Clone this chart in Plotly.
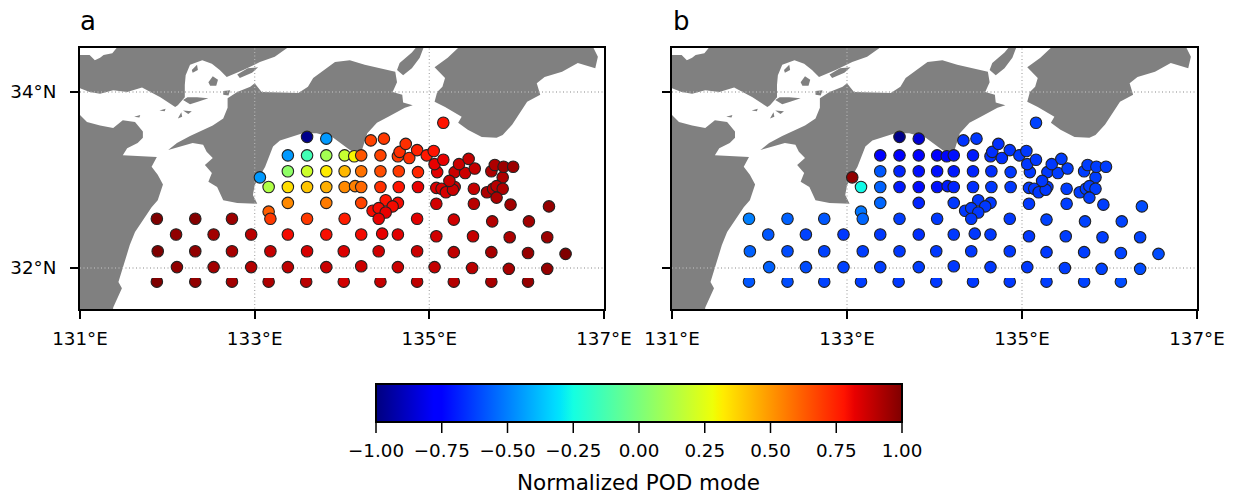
import plotly.graph_objects as go

X_TICKS = [131, 133, 135, 137]
X_LABELS = ["131°E", "133°E", "135°E", "137°E"]
Y_TICKS = [32, 34]
Y_LABELS = ["32°N", "34°N"]
CB_TICKS = [-1, -0.75, -0.5, -0.25, 0, 0.25, 0.5, 0.75, 1]

# Station positions and POD mode values
station_lon = [
    133.60, 133.82,
    135.16,
    134.33, 134.48,
    133.38, 133.60, 133.82, 134.03, 134.14, 134.22, 134.44, 134.64, 134.66, 134.73, 134.77, 134.86, 134.97, 135.05,
    133.06,
    133.38, 133.60, 133.82, 134.03, 134.22, 134.44, 134.65, 134.87, 135.09, 135.29, 135.41, 135.52, 135.71, 135.84, 135.75, 135.85, 135.96, 135.06, 135.16, 135.34, 135.45,
    133.16, 133.38, 133.60, 133.82, 134.03, 134.15, 134.22, 134.44, 134.65, 134.87, 135.08, 135.14, 135.19, 135.29, 135.27, 135.51, 135.66, 135.73, 135.77, 135.84, 135.77, 135.23,
    133.38, 133.82, 134.22, 134.50, 134.64, 134.58, 134.35, 134.42, 134.50, 135.08, 135.51, 135.93, 136.37,
    133.16, 133.18, 131.88, 132.32, 132.74, 133.60, 134.03, 134.42, 134.86, 135.28, 135.72, 136.14,
    132.10, 132.53, 132.96, 133.38, 133.82, 134.22, 134.46, 134.64, 135.08, 135.50, 135.92, 136.35,
    131.89, 132.32, 132.74, 133.18, 133.60, 134.02, 134.42, 134.86, 135.28, 135.71, 136.13, 136.56,
    132.11, 132.53, 132.96, 133.38, 133.82, 134.22, 134.64, 135.06, 135.49, 135.91, 136.35,
    131.88, 132.32, 132.74, 133.16, 133.59, 134.02, 134.44, 134.86, 135.28, 135.71, 136.13,
]
station_lat = [
    33.49, 33.47,
    33.65,
    33.45, 33.47,
    33.28, 33.28, 33.28, 33.28, 33.27, 33.28, 33.28, 33.27, 33.32, 33.41, 33.25, 33.34, 33.28, 33.33,
    33.03,
    33.10, 33.10, 33.10, 33.10, 33.10, 33.10, 33.10, 33.09, 33.09, 33.09, 33.08, 33.13, 33.10, 33.03, 33.17, 33.15, 33.15, 33.18, 33.23, 33.18, 33.24,
    32.92, 32.92, 32.92, 32.92, 32.92, 32.93, 32.92, 32.92, 32.92, 32.92, 32.91, 32.90, 32.86, 32.92, 32.89, 32.90, 32.86, 32.90, 32.93, 32.90, 32.80, 32.99,
    32.74, 32.74, 32.74, 32.77, 32.74, 32.70, 32.65, 32.68, 32.63, 32.73, 32.73, 32.72, 32.70,
    32.64, 32.56, 32.56, 32.56, 32.56, 32.56, 32.56, 32.56, 32.56, 32.55, 32.53, 32.53,
    32.38, 32.38, 32.38, 32.38, 32.38, 32.38, 32.39, 32.38, 32.36, 32.36, 32.35, 32.35,
    32.19, 32.19, 32.19, 32.19, 32.19, 32.19, 32.19, 32.19, 32.18, 32.18, 32.17, 32.16,
    32.01, 32.01, 32.01, 32.01, 32.01, 32.02, 32.01, 32.01, 32.00, 31.99, 31.99,
    31.845, 31.845, 31.845, 31.845, 31.845, 31.845, 31.845, 31.845, 31.845, 31.845, 31.845,
]
pod_a = [
    -0.98, -0.45,
    0.78,
    0.68, 0.70,
    -0.45, -0.14, 0.10, 0.18, 0.30, 0.64, 0.68, 0.70, 0.72, 0.72, 0.72, 0.75, 0.77, 0.78,
    -0.45,
    0.05, 0.20, 0.32, 0.43, 0.58, 0.66, 0.70, 0.74, 0.83, 0.87, 0.87, 0.88, 0.92, 0.92, 0.92, 0.95, 0.95, 0.82, 0.82, 0.87, 0.88,
    0.13, 0.35, 0.40, 0.45, 0.53, 0.55, 0.60, 0.72, 0.78, 0.82, 0.84, 0.85, 0.85, 0.87, 0.87, 0.88, 0.92, 0.90, 0.90, 0.92, 0.92, 0.87,
    0.53, 0.56, 0.68, 0.78, 0.80, 0.80, 0.80, 0.80, 0.82, 0.86, 0.90, 0.94, 0.96,
    0.62, 0.70, 1.00, 0.99, 0.95, 0.70, 0.76, 0.82, 0.83, 0.86, 0.91, 0.94,
    0.97, 0.94, 0.90, 0.80, 0.79, 0.80, 0.82, 0.83, 0.86, 0.88, 0.92, 0.95,
    1.00, 0.97, 0.93, 0.88, 0.85, 0.84, 0.86, 0.87, 0.89, 0.93, 0.96, 1.00,
    0.97, 0.94, 0.91, 0.89, 0.87, 0.87, 0.87, 0.88, 0.90, 0.93, 0.96,
    1.00, 0.97, 0.94, 0.92, 0.90, 0.86, 0.88, 0.89, 0.91, 0.93, 0.96,
]
pod_b = [
    -0.98, -0.85,
    -0.62,
    -0.65, -0.64,
    -0.78, -0.78, -0.76, -0.76, -0.74, -0.72, -0.70, -0.66, -0.66, -0.66, -0.66, -0.65, -0.64, -0.64,
    0.97,
    -0.58, -0.68, -0.72, -0.72, -0.70, -0.68, -0.66, -0.64, -0.64, -0.64, -0.63, -0.63, -0.63, -0.63, -0.63, -0.63, -0.63, -0.64, -0.64, -0.64, -0.63,
    -0.26, -0.56, -0.70, -0.73, -0.72, -0.70, -0.68, -0.66, -0.64, -0.64, -0.64, -0.64, -0.64, -0.64, -0.64, -0.63, -0.63, -0.63, -0.63, -0.63, -0.63, -0.64,
    -0.55, -0.68, -0.64, -0.64, -0.64, -0.64, -0.64, -0.64, -0.64, -0.64, -0.63, -0.63, -0.60,
    -0.52, -0.55, -0.50, -0.56, -0.58, -0.63, -0.64, -0.64, -0.64, -0.62, -0.62, -0.62,
    -0.58, -0.62, -0.64, -0.64, -0.66, -0.64, -0.64, -0.64, -0.64, -0.63, -0.63, -0.62,
    -0.56, -0.60, -0.62, -0.63, -0.64, -0.64, -0.64, -0.64, -0.64, -0.63, -0.62, -0.60,
    -0.56, -0.60, -0.62, -0.63, -0.63, -0.64, -0.64, -0.64, -0.63, -0.62, -0.60,
    -0.58, -0.60, -0.62, -0.63, -0.64, -0.64, -0.64, -0.64, -0.63, -0.62, -0.60,
]

# Land outlines (lon/lat)
honshu_west_lon = [131.435,131.37,131.27,131.23,131.17,131.11,130.98,130.98,131.11,131.23,131.38,131.54,131.71,131.80,131.92,132.09,132.12,132.20,132.20,132.21,132.26,132.40,132.51,132.60,132.68,132.87,133.06,133.23,133.40,133.40,130.98,130.98,131.435]
honshu_west_lat = [34.52,34.44,34.42,34.39,34.36,34.42,34.42,34.05,34.00,33.98,34.02,34.00,34.05,34.00,33.94,33.83,33.85,33.94,34.08,34.19,34.31,34.36,34.32,34.25,34.17,34.25,34.34,34.40,34.52,34.52,34.52,34.52,34.52]
kyushu_lon = [130.98,131.08,131.23,131.38,131.49,131.63,131.72,131.72,131.66,131.54,131.49,131.77,131.88,131.82,131.89,131.95,131.89,131.82,131.69,131.63,131.57,131.49,131.44,131.48,131.38,131.37,130.98]
kyushu_lat = [33.76,33.66,33.62,33.59,33.68,33.66,33.55,33.48,33.42,33.36,33.28,33.26,33.26,33.15,33.06,32.95,32.77,32.69,32.49,32.41,32.26,32.01,31.84,31.77,31.55,31.45,31.45]
shikoku_lon = [132.01,132.11,132.26,132.41,132.52,132.64,132.69,132.69,132.80,132.95,133.00,133.08,133.50,133.61,133.67,133.92,134.09,134.26,134.61,134.63,134.58,134.69,134.70,134.81,134.72,134.53,134.40,134.29,134.21,134.15,134.09,133.90,133.71,133.55,133.29,133.21,133.12,133.00,132.98,133.03,132.80,132.64,132.57,132.47,132.51,132.43,132.52,132.45,132.41,132.29,132.15,132.01]
shikoku_lat = [33.34,33.42,33.50,33.57,33.62,33.70,33.82,33.93,34.00,34.06,34.10,34.00,33.99,34.06,34.16,34.34,34.36,34.31,34.23,34.11,34.00,33.97,33.88,33.85,33.82,33.72,33.65,33.53,33.28,33.31,33.34,33.48,33.53,33.53,33.45,33.38,33.15,32.94,32.83,32.73,32.74,32.77,32.92,32.98,33.08,33.17,33.25,33.32,33.40,33.42,33.38,33.34]
kii_lon = [135.35,135.21,135.06,135.12,135.18,135.15,135.09,135.06,135.18,135.37,135.33,135.44,135.60,135.77,135.84,135.95,136.04,136.12,136.27,136.23,136.32,136.52,136.70,136.90,136.93,136.87,135.35]
kii_lat = [34.52,34.39,34.28,34.22,34.16,34.06,34.00,33.89,33.83,33.72,33.65,33.57,33.49,33.48,33.51,33.63,33.77,33.89,33.97,34.10,34.17,34.23,34.33,34.27,34.40,34.52,34.52]
islands_lon = [134.94,134.89,134.80,134.70,134.63,134.66,134.80,134.86,None,
               132.18,132.23,132.34,132.47,132.35,132.26,None,
               132.47,132.52,132.58,132.56,132.49,None,
               132.64,132.72,132.70,132.64,None,
               132.80,132.92,133.04,132.97,132.83,None,
               131.62,131.69,131.68,None,
               131.91,131.98,131.97,None,
               132.12,132.16,132.17,None,
               132.18,132.28,132.24,None,
               132.28,132.34,132.35,132.29]
islands_lat = [34.52,34.39,34.27,34.19,34.25,34.33,34.45,34.52,None,
               33.91,33.94,33.94,33.93,33.89,33.86,None,
               34.11,34.18,34.14,34.07,34.07,None,
               34.01,34.02,33.96,33.97,None,
               34.20,34.27,34.28,34.22,34.16,None,
               33.72,33.74,33.71,None,
               33.79,33.81,33.78,None,
               33.70,33.77,33.72,None,
               33.79,33.78,33.75,None,
               34.25,34.31,34.25,34.22]

LAND = "#808080"
FONT = "DejaVu Sans"

jet = [
    [0.0, "rgb(0,0,127)"], [0.11, "rgb(0,0,255)"], [0.125, "rgb(0,0,255)"],
    [0.34, "rgb(0,219,255)"], [0.35, "rgb(0,229,251)"], [0.375, "rgb(20,255,226)"],
    [0.64, "rgb(238,255,8)"], [0.65, "rgb(247,246,0)"], [0.66, "rgb(255,236,0)"],
    [0.89, "rgb(255,19,0)"], [0.91, "rgb(232,0,0)"], [1.0, "rgb(127,0,0)"],
]

fig = go.Figure()
land_parts = [(honshu_west_lon, honshu_west_lat), (kyushu_lon, kyushu_lat),
              (shikoku_lon, shikoku_lat), (kii_lon, kii_lat), (islands_lon, islands_lat)]

for xa, ya, values in (("x", "y", pod_a), ("x2", "y2", pod_b)):
    for lons, lats in land_parts:
        fig.add_trace(go.Scatter(x=lons, y=lats, xaxis=xa, yaxis=ya, mode="lines",
                                 fill="toself", fillcolor=LAND, line=dict(width=0),
                                 hoverinfo="skip", showlegend=False))
    for lon in X_TICKS[1:3]:
        fig.add_trace(go.Scatter(x=[lon, lon], y=[31.5, 34.5], xaxis=xa, yaxis=ya, mode="lines",
                                 line=dict(color="#b0b0b0", width=1.3, dash="1px,2.5px"),
                                 hoverinfo="skip", showlegend=False))
    for lat in Y_TICKS:
        fig.add_trace(go.Scatter(x=[131, 137], y=[lat, lat], xaxis=xa, yaxis=ya, mode="lines",
                                 line=dict(color="#b0b0b0", width=1.3, dash="1px,2.5px"),
                                 hoverinfo="skip", showlegend=False))
    fig.add_trace(go.Scatter(x=station_lon, y=station_lat, xaxis=xa, yaxis=ya, mode="markers",
                             marker=dict(size=11.5, color=values, coloraxis="coloraxis",
                                         line=dict(color="#222222", width=1.1)),
                             showlegend=False))

W, H = 1233, 496
ML, MR = 30, 30
PW = W - ML - MR


def fx(px):
    return (px - ML) / PW


def fy(py):
    return 1 - py / H


axis_common = dict(showgrid=False, zeroline=False, showline=True, mirror=True,
                   linecolor="black", linewidth=2, ticks="outside", ticklen=8,
                   tickwidth=1.5, tickcolor="black",
                   tickfont=dict(family=FONT, size=18.3, color="black"))
ydom = [fy(309), fy(48)]
yr = [31.534, 34.5]
cb_left, cb_width = 376, 526
tick_shapes = [
    dict(type="line", xref="paper", yref="paper",
         x0=fx(cb_left + cb_width * (t + 1) / 2), x1=fx(cb_left + cb_width * (t + 1) / 2),
         y0=fy(423), y1=fy(433), line=dict(color="black", width=1.5))
    for t in CB_TICKS
]
fig.update_layout(
    width=W, height=H, autosize=False,
    margin=dict(l=ML, r=MR, t=0, b=0),
    paper_bgcolor="white", plot_bgcolor="white",
    font=dict(family=FONT, color="black"),
    xaxis=dict(domain=[fx(80), fx(604)], range=[131, 137], tickvals=X_TICKS, ticktext=X_LABELS,
               ticklabelstandoff=4, **axis_common),
    yaxis=dict(domain=ydom, range=yr, tickvals=Y_TICKS, ticktext=Y_LABELS,
               ticklabelstandoff=10, **axis_common),
    xaxis2=dict(domain=[fx(672), fx(1197)], range=[131, 137], anchor="y2", tickvals=X_TICKS, ticktext=X_LABELS,
                ticklabelstandoff=4, **axis_common),
    yaxis2=dict(domain=ydom, range=yr, anchor="x2", tickvals=Y_TICKS, showticklabels=False, **axis_common),
    coloraxis=dict(
        cmin=-1, cmax=1, colorscale=jet,
        colorbar=dict(
            orientation="h", x=fx(cb_left), xanchor="left", y=fy(384), yanchor="top",
            len=cb_width / PW, lenmode="fraction", thickness=38, thicknessmode="pixels",
            xpad=0, ypad=0, outlinecolor="black", outlinewidth=2,
            ticks="outside", ticklen=13, tickwidth=1, tickcolor="rgba(0,0,0,0)",
            tickvals=CB_TICKS, tickformat=".2f",
            tickfont=dict(family=FONT, size=18.3, color="black"),
        ),
    ),
    annotations=[
        dict(text="a", xref="paper", yref="paper", x=fx(78), y=fy(38), xanchor="left", yanchor="bottom",
             showarrow=False, font=dict(family=FONT, size=26, color="black")),
        dict(text="b", xref="paper", yref="paper", x=fx(671), y=fy(38), xanchor="left", yanchor="bottom",
             showarrow=False, font=dict(family=FONT, size=26, color="black")),
        dict(text="Normalized POD mode", xref="paper", yref="paper", x=fx(638.5), y=fy(482),
             xanchor="center", yanchor="middle", showarrow=False,
             font=dict(family=FONT, size=21.5, color="black")),
    ],
    shapes=[
        dict(type="rect", xref=xr, yref=yy, x0=131.7, x1=136.4, y0=31.885, y1=31.92,
             fillcolor="white", line=dict(width=0), layer="above")
        for xr, yy in (("x", "y"), ("x2", "y2"))
    ] + tick_shapes,
)
assert len(station_lon) == len(station_lat) == len(pod_a) == len(pod_b), (len(station_lon), len(station_lat), len(pod_a), len(pod_b))
fig.write_html("out.html", config={"displayModeBar": False}, post_script="document.body.style.margin='0';")
